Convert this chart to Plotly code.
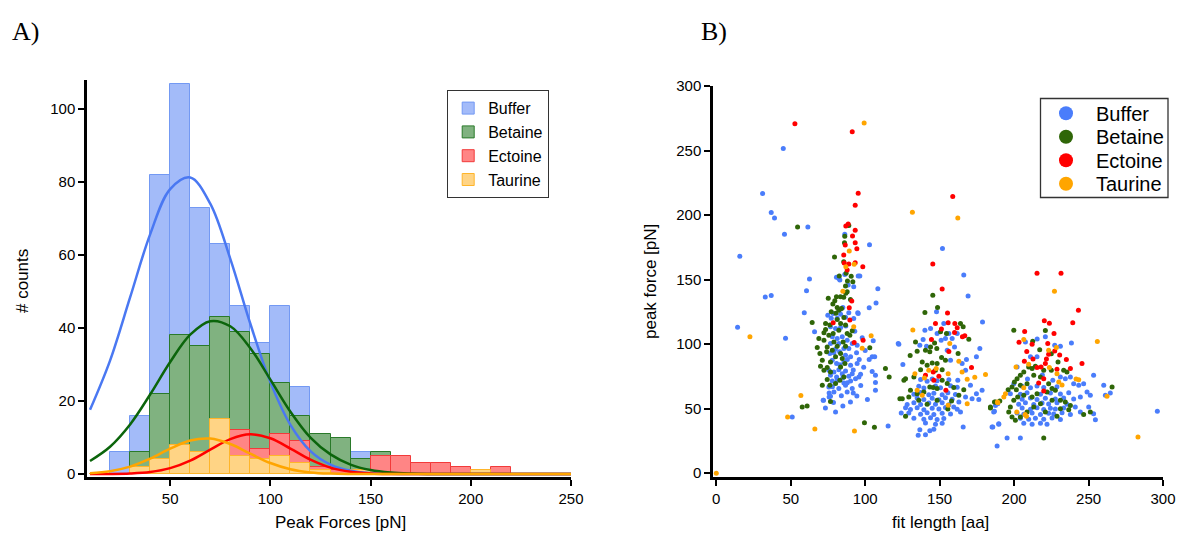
import plotly.graph_objects as go

# ---------------- Panel A data (histogram counts per 10 pN bin) ----------------
bin_left = [10, 20, 30, 40, 50, 60, 70, 80, 90, 100, 110, 120, 130, 140, 150,
            160, 170, 180, 190, 200, 210, 220, 230, 240]
buffer_counts  = [0, 6, 16, 82, 107, 73, 63, 46, 36, 46, 24, 10, 7, 6, 3, 2, 1, 1, 0, 0, 0, 0, 0, 0]
betaine_counts = [0, 0, 6, 22, 38, 35, 43, 39, 33, 25, 16, 11, 10, 4, 6, 0, 0, 0, 0, 0, 0, 0, 0, 0]
ectoine_counts = [0, 0, 0, 1, 2, 3, 6, 12, 7, 11, 9, 2, 1, 0, 5, 5, 3, 3, 2, 0, 2, 0, 0, 0]
taurine_counts = [0, 0, 2, 4, 8, 6, 15, 5, 4, 5, 3, 1, 0, 1, 0, 0, 0, 0, 0, 1, 0, 0, 0, 0]

# Gaussian fit curves, every 10 pN
fit_x = [10, 20, 30, 40, 50, 60, 70, 80, 90, 100, 110, 120, 130, 140, 150,
         160, 170, 180, 190, 200, 210, 220, 230, 240, 250]
buffer_fit  = [17.6, 31.1, 48.4, 65.7, 78.1, 81.3, 74.1, 59.0, 41.2, 25.2, 13.5, 6.3, 2.6,
               0.93, 0.29, 0.08, 0.02, 0, 0, 0, 0, 0, 0, 0, 0]
betaine_fit = [3.6, 7.5, 13.6, 21.8, 30.7, 38.2, 41.9, 40.5, 34.5, 25.9, 17.1, 10.0, 5.4,
               2.6, 1.1, 0.4, 0.13, 0.04, 0.01, 0, 0, 0, 0, 0, 0]
ectoine_fit = [0.01, 0.03, 0.15, 0.56, 1.62, 3.69, 6.69, 9.59, 10.9, 9.81, 7.0, 3.96, 1.78,
               0.63, 0.18, 0.04, 0.01, 0, 0, 0, 0, 0, 0, 0, 0]
taurine_fit = [0.25, 0.80, 2.05, 4.23, 6.97, 9.2, 9.73, 8.24, 5.58, 3.03, 1.32, 0.46, 0.13,
               0.03, 0.01, 0, 0, 0, 0, 0, 0, 0, 0, 0, 0]

# ---------------- Panel B data (fit length [aa], peak force [pN]) ----------------
buffer_pts = [
    (45, 251.6), (31.1, 216.6), (36.9, 201.9), (39.1, 197.8), (45.8, 185.1), (61.5, 190.8), (15.8, 168),
    (102.9, 177), (151.9, 174), (166.2, 153.5), (86.3, 185.1), (62.6, 150.4), (80.7, 151.7), (82.3, 150.9),
    (96.4, 152.7), (32.9, 136.4), (36.9, 137.7), (14.3, 113.1), (46.5, 104.6), (60.6, 141.3), (59.1, 124.2),
    (51, 43.5), (108.5, 142.9), (107.3, 131.8), (102.7, 128.1), (105.4, 102.5), (104.7, 90.1), (106.4, 90.1),
    (104.7, 78.7), (106.9, 70.2), (106.9, 64.2), (101.5, 57), (115.4, 36.5), (72, 56.4), (73.3, 50.5),
    (75.8, 62.1), (75.8, 59), (78.7, 54.7), (85, 52), (90.1, 55.1), (94.4, 59.8), (86.3, 154), (95.3, 152.7),
    (92.3, 144.4), (88.6, 145.7), (83, 149.6), (95, 124.2), (85, 128.4), (83.4, 126.9), (77.2, 120.1),
    (81.2, 120.1), (86.8, 120.7), (92.3, 119.9), (66, 109.5), (74.9, 122.4), (78.5, 123.7), (83.5, 123.2),
    (89, 124.2), (95.3, 123.7), (76.7, 113.4), (80.1, 112.1), (83.5, 112.8), (77.9, 105.6), (81.2, 104.3),
    (84.6, 105.6), (87.9, 103), (91.3, 100.4), (76.7, 100.4), (82.3, 100.4), (85.7, 96.5), (89, 96.5),
    (94.6, 99.1), (76.3, 92.7), (79, 93.2), (82.8, 94), (86.8, 91.4), (90.2, 90.1), (94.2, 93.2), (77.9, 87.5),
    (80.8, 84.9), (85.7, 86.2), (90.2, 83.6), (94.6, 84.9), (75.6, 79.7), (79, 78.4), (82.3, 80.2), (86.8, 79.2),
    (91.3, 77.1), (76.7, 75.8), (80.8, 74.5), (84.6, 77.1), (89, 75.1), (93.5, 73.2), (96.9, 76.6), (77.9, 71.4),
    (81.2, 72), (85.7, 69.9), (90.2, 71.4), (95.8, 74.5), (75.6, 66.8), (79, 62.9), (82.3, 65.5), (86.8, 68.1),
    (91.3, 65.5), (87.9, 62.9), (102.7, 88), (106.9, 75.8), (71.8, 56.4), (80.1, 47.4), (76.7, 59.5),
    (122.2, 100.4), (88, 88), (92, 80), (84, 60), (97, 68), (99, 82), (100, 95), (98, 105), (93, 110), (87, 114),
    (80, 96), (83, 84), (88, 70), (92, 62), (96, 88), (78, 67), (85, 74),
    (169.1, 137.2), (147.9, 125), (178.8, 117.2), (152.8, 116), (140.1, 110.8), (143.9, 112.1), (148.3, 108.2),
    (156.2, 108.2), (158.4, 104.3), (161.8, 108.2), (138.9, 103.5), (136.7, 99.1), (141.2, 98.4), (151, 103),
    (153.9, 104.3), (122.6, 99.9), (125.3, 84.1), (155.1, 95.3), (160, 97.8), (168, 88), (174.7, 90.1),
    (177, 96.5), (157.3, 87.5), (165.1, 84.9), (162.2, 72), (167.4, 79.7), (170.7, 68.1), (174.7, 61.6),
    (178.5, 64.2), (176.3, 57), (171.8, 57.7), (167.4, 59), (162.9, 55.1), (159.5, 51.3), (164, 47.4),
    (137.2, 72.5), (141.6, 71.2), (145, 73), (148.3, 71.6), (156.2, 72.4), (136, 67.3), (139.4, 66),
    (147.2, 67.5), (150.6, 66.2), (157.3, 67.8), (161.8, 66.5), (132.7, 61.2), (137.2, 62.4), (142.7, 60.8),
    (146.1, 61.9), (151.7, 60.7), (155.5, 62.2), (160.6, 61), (134.9, 58.3), (139.4, 57.1), (145, 58),
    (149.5, 56.9), (153.9, 58.4), (158.4, 57.2), (128.2, 53.2), (132.7, 54.5), (137.2, 53.1), (142.7, 54.3),
    (147.2, 53.4), (151.7, 54.6), (156.2, 53), (130.4, 49.4), (134.9, 50.6), (139.4, 49.2), (145, 50.3),
    (149.5, 49.6), (153.9, 50.8), (161.8, 49.5), (129.3, 46.5), (137.2, 45.6), (141.6, 46.8), (146.1, 45.4),
    (151.7, 46.4), (157.3, 45.8), (132.7, 42.6), (139.4, 41.8), (143.9, 42.9), (148.3, 41.5), (152.8, 42.4),
    (140.5, 38.8), (147.2, 37.9), (151.7, 38.6), (136.7, 33.6), (143.4, 32.8), (146.1, 34), (135.6, 29.3),
    (140.5, 29.8), (124.2, 46.6), (127.1, 50.7), (165.8, 35.7), (185.7, 35.7), (189.7, 37.8), (186.8, 47.9),
    (188.6, 21),
    (221, 105.6), (227.3, 99.1), (231.1, 98.3), (238.5, 100.9), (207.6, 101.7), (211, 90.1), (215.4, 90.1),
    (231.1, 74.5), (234.4, 73.2), (237.8, 74.5), (240, 69.3), (243.4, 68.1), (246.7, 69.3), (249, 62.9),
    (251.2, 60.3), (250.1, 51.2), (253.4, 46.1), (254.6, 41.4), (260.2, 68.1), (264.6, 62.1), (253.4, 75.8),
    (244.5, 59), (241.1, 51.2), (244.5, 47.3), (205.4, 67.3), (211, 66.2), (215.4, 67.5), (219.9, 66.4),
    (228.8, 67), (204.2, 61.1), (208.7, 62.3), (217.7, 61.2), (224.4, 62), (231.1, 61.4), (236.7, 62.2),
    (205.4, 57.2), (211, 58.3), (215.4, 57), (221, 58.1), (227.7, 57.4), (233.3, 58.2), (240, 57.5),
    (203.1, 53.4), (207.6, 54.5), (213.2, 53.2), (218.8, 54.3), (223.2, 53.5), (228.8, 54.6), (235.5, 53.3),
    (205.4, 50.4), (211, 49.5), (215.4, 50.6), (219.9, 49.3), (224.4, 50.2), (227.7, 49.6), (233.3, 50.5),
    (202, 46.5), (206.5, 45.7), (212.1, 46.6), (217.7, 45.5), (223.2, 46.4), (226.6, 45.8), (232.2, 46.7),
    (237.8, 45.4), (204.2, 42.6), (209.8, 41.7), (214.3, 42.5), (219.9, 41.8), (225.5, 42.7), (231.1, 41.6),
    (206.5, 38.7), (212.1, 37.9), (217.7, 38.6), (222.1, 37.8), (186.3, 47.3), (189.7, 38.3), (185.2, 35.7),
    (195.3, 27.2), (204.2, 27.2), (189, 53.8), (187.5, 52.5), (199.8, 69.3), (202, 82.3), (197.5, 61.6),
    (296.2, 47.9), (261.3, 60.3), (219, 76), (226, 72), (209, 73), (215.5, 104),
]

betaine_pts = [
    (54.6, 190.8), (89, 191.8), (86.3, 183.5), (86.1, 178.6), (79.4, 167.5), (85.6, 163.8), (87.2, 154.8),
    (82.6, 152.7), (90.6, 152.5), (113.6, 81), (116.1, 74.5), (99.5, 39.1), (106.2, 35.5), (57.7, 51.3),
    (61, 52), (64.4, 116.8), (91.7, 148.3), (88.1, 148.8), (86.8, 145), (87.9, 140.5), (85.6, 136.2),
    (83.4, 136.6), (80.7, 136.6), (75.2, 135.6), (79.6, 133.5), (78.3, 131), (81.2, 128.4), (77.2, 125),
    (80.3, 123.8), (82.3, 126.3), (84.1, 127.6), (87, 139.3), (90.1, 134.6), (73.4, 116), (76.3, 114.7),
    (81.2, 119.1), (83.5, 116), (85.7, 120.6), (86.8, 114.7), (73.4, 111.3), (72.3, 108.7), (68.9, 104.3),
    (72.3, 103), (75.6, 106.9), (78.5, 108.2), (82.3, 110.8), (87.9, 108.2), (89.7, 106.9), (91.3, 110.3),
    (79, 101.7), (74.5, 97.8), (67.8, 97.3), (69.6, 92.7), (71.2, 87.5), (74.1, 94), (77.9, 95.2), (81.2, 98.3),
    (85.2, 101.7), (86.8, 98.3), (83.5, 92.7), (80.1, 90.1), (76.7, 86.2), (84.6, 88.8), (86.4, 84.9),
    (83.5, 82.3), (74.5, 81.8), (72.3, 79.7), (70, 82.8), (76.7, 78.4), (74.5, 72.5), (76.3, 68.1), (80.1, 69.4),
    (83, 72), (85.7, 74.5), (103.1, 97.1), (123.3, 57.7), (76.7, 55.6), (71.2, 68.1),
    (145.4, 137.9), (148.6, 128.4), (140.1, 124.5), (150.6, 109.5), (154.6, 108.2), (164, 116), (165.8, 113.4),
    (169.6, 103.8), (162.4, 92.7), (153.9, 87.5), (151.3, 89.6), (148.1, 96.5), (143.9, 97.8), (146.6, 100.9),
    (143.4, 94), (140.5, 95.3), (134.9, 94.5), (130.2, 91.1), (133.8, 101.7), (138.3, 86.2), (141.6, 83.6),
    (145, 85.4), (148.3, 84.9), (151.7, 80.2), (147.2, 79.7), (137.2, 80.2), (132.7, 74.5), (127.1, 73.2),
    (126, 72), (130.4, 64.2), (134.9, 61.6), (139.4, 62.9), (143.4, 66.8), (148.3, 65.5), (151.7, 72),
    (155.1, 69.4), (159.5, 66.3), (166.2, 64.7), (162.9, 60.3), (158, 55.9), (148.3, 56.4), (141.6, 53.3),
    (136, 56.4), (129.3, 59), (124.9, 57.7), (127.1, 44), (184.1, 50.5), (187.5, 55.1), (155.5, 49.7),
    (145.7, 66.3),
    (199.8, 110.8), (221, 110.5), (212.5, 102.2), (217.2, 95.7), (225, 92.6), (229.5, 86.2), (225, 79.7),
    (219.9, 79.7), (209.8, 82.3), (212.1, 81), (214.3, 82.8), (206.5, 78.4), (204.2, 75.8), (202, 73.2),
    (200.2, 70.6), (198.6, 66.8), (201.5, 64.7), (204.2, 68.1), (208.7, 69.3), (213.2, 75.8), (217.7, 74.5),
    (223.2, 69.3), (225.5, 65.5), (227.7, 64.2), (222.1, 62.9), (215.4, 61.6), (212.1, 59), (206.5, 60.3),
    (202.4, 59), (199.8, 56.4), (197.5, 51.2), (196.4, 47.3), (198.6, 43.5), (200.9, 40.9), (204.2, 43.5),
    (208.7, 47.3), (213.2, 51.2), (217.7, 53.8), (221, 47.3), (225.5, 56.4), (231.1, 56.4), (234.4, 55.1),
    (237.8, 52.5), (236.7, 49.2), (231.1, 49.9), (228.8, 44), (246.7, 45.5), (251.2, 47.3), (265.8, 66.8),
    (186.8, 55.1), (184.1, 51.2), (219.9, 27.2), (196, 64.7), (190.4, 55.9), (233.3, 79.7), (235.5, 78.4),
]

ectoine_pts = [
    (52.8, 270.7), (91.3, 264.5), (95.3, 216.9), (93.3, 207.6), (158.8, 214.3), (145.4, 162), (215.4, 154.8),
    (231.5, 154.8), (87, 191.5), (88.6, 193), (93.3, 188.2), (91.5, 183.8), (93.3, 178.6), (94.4, 173.9),
    (85.6, 169), (86.6, 176.8), (85.9, 162.8), (93.3, 163), (89, 162), (98.4, 160), (87.9, 157.4),
    (98.6, 103), (92.6, 101.2), (89.7, 118.6), (91, 133.3), (78.5, 116.5), (89.3, 128.1),
    (151.7, 142.6), (155.3, 124), (147.2, 116), (151.2, 111.6), (155.7, 116.5), (160.2, 116), (161.8, 112.6),
    (160, 109), (165.3, 105.6), (166.9, 106.4), (144.5, 103.5), (156.2, 94.2), (145.7, 78.4), (140.5, 75.8),
    (146.1, 72), (149.5, 75.1), (171.4, 81.8), (154.2, 64.2),
    (243.2, 126.3), (239.4, 116.5), (220.3, 118), (223.7, 116.2), (207.1, 109.7), (226.8, 108.2),
    (203.3, 101.4), (212.1, 99.9), (222.6, 100.4), (230.6, 91.6), (227.3, 94.7), (223.2, 92.1), (208.5, 94.2),
    (212.7, 88.5), (235.1, 88), (221.7, 88.5), (206.9, 86.7), (245.6, 84.9), (221, 84.9), (218.1, 82.3),
    (215.4, 81.8), (228.8, 80.5), (237.8, 81), (219.9, 73.2), (216.5, 69.9), (219.9, 63.7),
]

taurine_pts = [
    (99.3, 271.3), (131.7, 202.2), (162.2, 197.8), (89.3, 172.1), (92.6, 161.8), (87, 160), (22.6, 105.6),
    (56.8, 60.1), (47.9, 43.5), (66.2, 34.2), (92.8, 32.6), (104, 106.4), (98, 96.8), (92.3, 113.4), (0, 0),
    (85, 141),
    (132, 111), (156.8, 100.4), (162.9, 86.7), (133.4, 77.1), (139.8, 73.8), (142.7, 79.7), (147.7, 81),
    (155.7, 77.1), (165.1, 78.4), (168.5, 72.7), (173.6, 74.3), (180.8, 76.4), (134.9, 64.2), (138.3, 60.3),
    (155.7, 52.6), (168.5, 53.8), (189.1, 54.6),
    (227.1, 141), (255.9, 102), (206.5, 103.5), (223.2, 95.2), (228.4, 97.3), (201.3, 82.3), (209.8, 84.4),
    (223.7, 81.8), (228.8, 77.1), (241.6, 73), (243.4, 72.4), (230, 70.6), (232.2, 68.3), (206.5, 66.2),
    (193.1, 59), (194.2, 61.6), (188.8, 55.1), (262.4, 59.5), (201.8, 47.3), (207.4, 45.5), (208.3, 44),
    (283.2, 28),
]

names = ["Buffer", "Betaine", "Ectoine", "Taurine"]
bar_fill = ["#a3bbf9", "#80b280", "#ff8585", "#ffd485"]
bar_edge = ["#7399f3", "#2a7a2a", "#f23a3a", "#ffb52a"]
line_col = ["#4a78f2", "#0b650b", "#ff0000", "#ffa500"]
dot_col = ["#4a7dfb", "#2f6608", "#ff0000", "#ffa500"]

W, H = 1181, 536
FONT = "Liberation Sans, Arial, sans-serif"

fig = go.Figure()

counts = [buffer_counts, betaine_counts, ectoine_counts, taurine_counts]
centers = [b + 5 for b in bin_left]
for i, name in enumerate(names):
    fig.add_trace(go.Bar(
        x=centers, y=counts[i], width=10, name=name,
        marker=dict(color=bar_fill[i], line=dict(color=bar_edge[i], width=1)),
        xaxis="x", yaxis="y", legend="legend",
    ))

fits = [buffer_fit, betaine_fit, ectoine_fit, taurine_fit]
for i, name in enumerate(names):
    fig.add_trace(go.Scatter(
        x=fit_x, y=fits[i], mode="lines", showlegend=False,
        line=dict(color=line_col[i], width=2.5, shape="spline"),
        xaxis="x", yaxis="y", hoverinfo="skip",
    ))

pts = [buffer_pts, betaine_pts, ectoine_pts, taurine_pts]
for i, name in enumerate(names):
    fig.add_trace(go.Scatter(
        x=[p[0] for p in pts[i]], y=[p[1] for p in pts[i]], mode="markers", name=name,
        marker=dict(color=dot_col[i], size=5, line=dict(width=0)),
        xaxis="x2", yaxis="y2", showlegend=False, cliponaxis=False,
    ))


def px_x(p):
    return p / W


def px_y(p):
    return (H - p) / H


axis_common = dict(
    showline=True, linecolor="black", linewidth=2.5, ticks="outside", ticklen=6,
    tickwidth=2, tickcolor="black", showgrid=False, zeroline=False, automargin=False,
    tickfont=dict(family=FONT, size=15, color="black"),
)

fig.update_layout(
    width=W, height=H, margin=dict(l=0, r=0, t=0, b=0, autoexpand=False),
    paper_bgcolor="white", plot_bgcolor="white",
    barmode="overlay", bargap=0,
    font=dict(family=FONT, color="black"),
    xaxis=dict(domain=[px_x(87), px_x(571)], range=[8.5, 250],
               tickvals=[50, 100, 150, 200, 250], anchor="y", **axis_common),
    yaxis=dict(domain=[px_y(477), px_y(80)], range=[-0.8, 108],
               tickvals=[0, 20, 40, 60, 80, 100], anchor="x", **axis_common),
    xaxis2=dict(domain=[px_x(713), px_x(1163)], range=[-2.2, 300],
                tickvals=[0, 50, 100, 150, 200, 250, 300], anchor="y2", **axis_common),
    yaxis2=dict(domain=[px_y(477), px_y(86)], range=[-3, 300],
                tickvals=[0, 50, 100, 150, 200, 250, 300], anchor="x2", **axis_common),
    legend=dict(x=px_x(447), y=px_y(90), xanchor="left", yanchor="top",
                bordercolor="#333333", borderwidth=1.2, bgcolor="white",
                font=dict(family=FONT, size=16, color="black"), tracegroupgap=0),
    showlegend=True,
)

# Panel B legend (drawn box, round keys and labels)
shapes = [dict(type="rect", xref="paper", yref="paper",
               x0=px_x(1040.5), x1=px_x(1168), y0=px_y(197.5), y1=px_y(98.5),
               line=dict(color="#333333", width=1.3), fillcolor="white", layer="above")]
key_y = [113.3, 136.7, 160.2, 183.8]
annots = []
for i, name in enumerate(names):
    shapes.append(dict(type="circle", xref="paper", yref="paper",
                       x0=px_x(1066 - 7), x1=px_x(1066 + 7),
                       y0=px_y(key_y[i] + 7), y1=px_y(key_y[i] - 7),
                       line=dict(width=0), fillcolor=dot_col[i], layer="above"))
    annots.append(dict(text=name, x=px_x(1094), y=px_y(key_y[i] + 0.5),
                       xanchor="left", yanchor="middle",
                       font=dict(family=FONT, size=20, color="black")))

annots += [
    dict(text="A)", x=px_x(10), y=px_y(32), xanchor="left", yanchor="middle",
         font=dict(family="Liberation Serif, Times New Roman, serif", size=26)),
    dict(text="B)", x=px_x(699), y=px_y(32), xanchor="left", yanchor="middle",
         font=dict(family="Liberation Serif, Times New Roman, serif", size=26)),
    dict(text="# counts", x=px_x(22), y=px_y(281), textangle=-90, xanchor="center", yanchor="middle",
         font=dict(family=FONT, size=17)),
    dict(text="Peak Forces [pN]", x=px_x(340), y=px_y(522), xanchor="center", yanchor="middle",
         font=dict(family=FONT, size=17)),
    dict(text="peak force [pN]", x=px_x(650), y=px_y(282), textangle=-90, xanchor="center", yanchor="middle",
         font=dict(family=FONT, size=17)),
    dict(text="fit length [aa]", x=px_x(940), y=px_y(522), xanchor="center", yanchor="middle",
         font=dict(family=FONT, size=17)),
]
for a in annots:
    a.update(xref="paper", yref="paper", showarrow=False)
fig.update_layout(annotations=annots, shapes=shapes)

fig.write_html("out.html")
